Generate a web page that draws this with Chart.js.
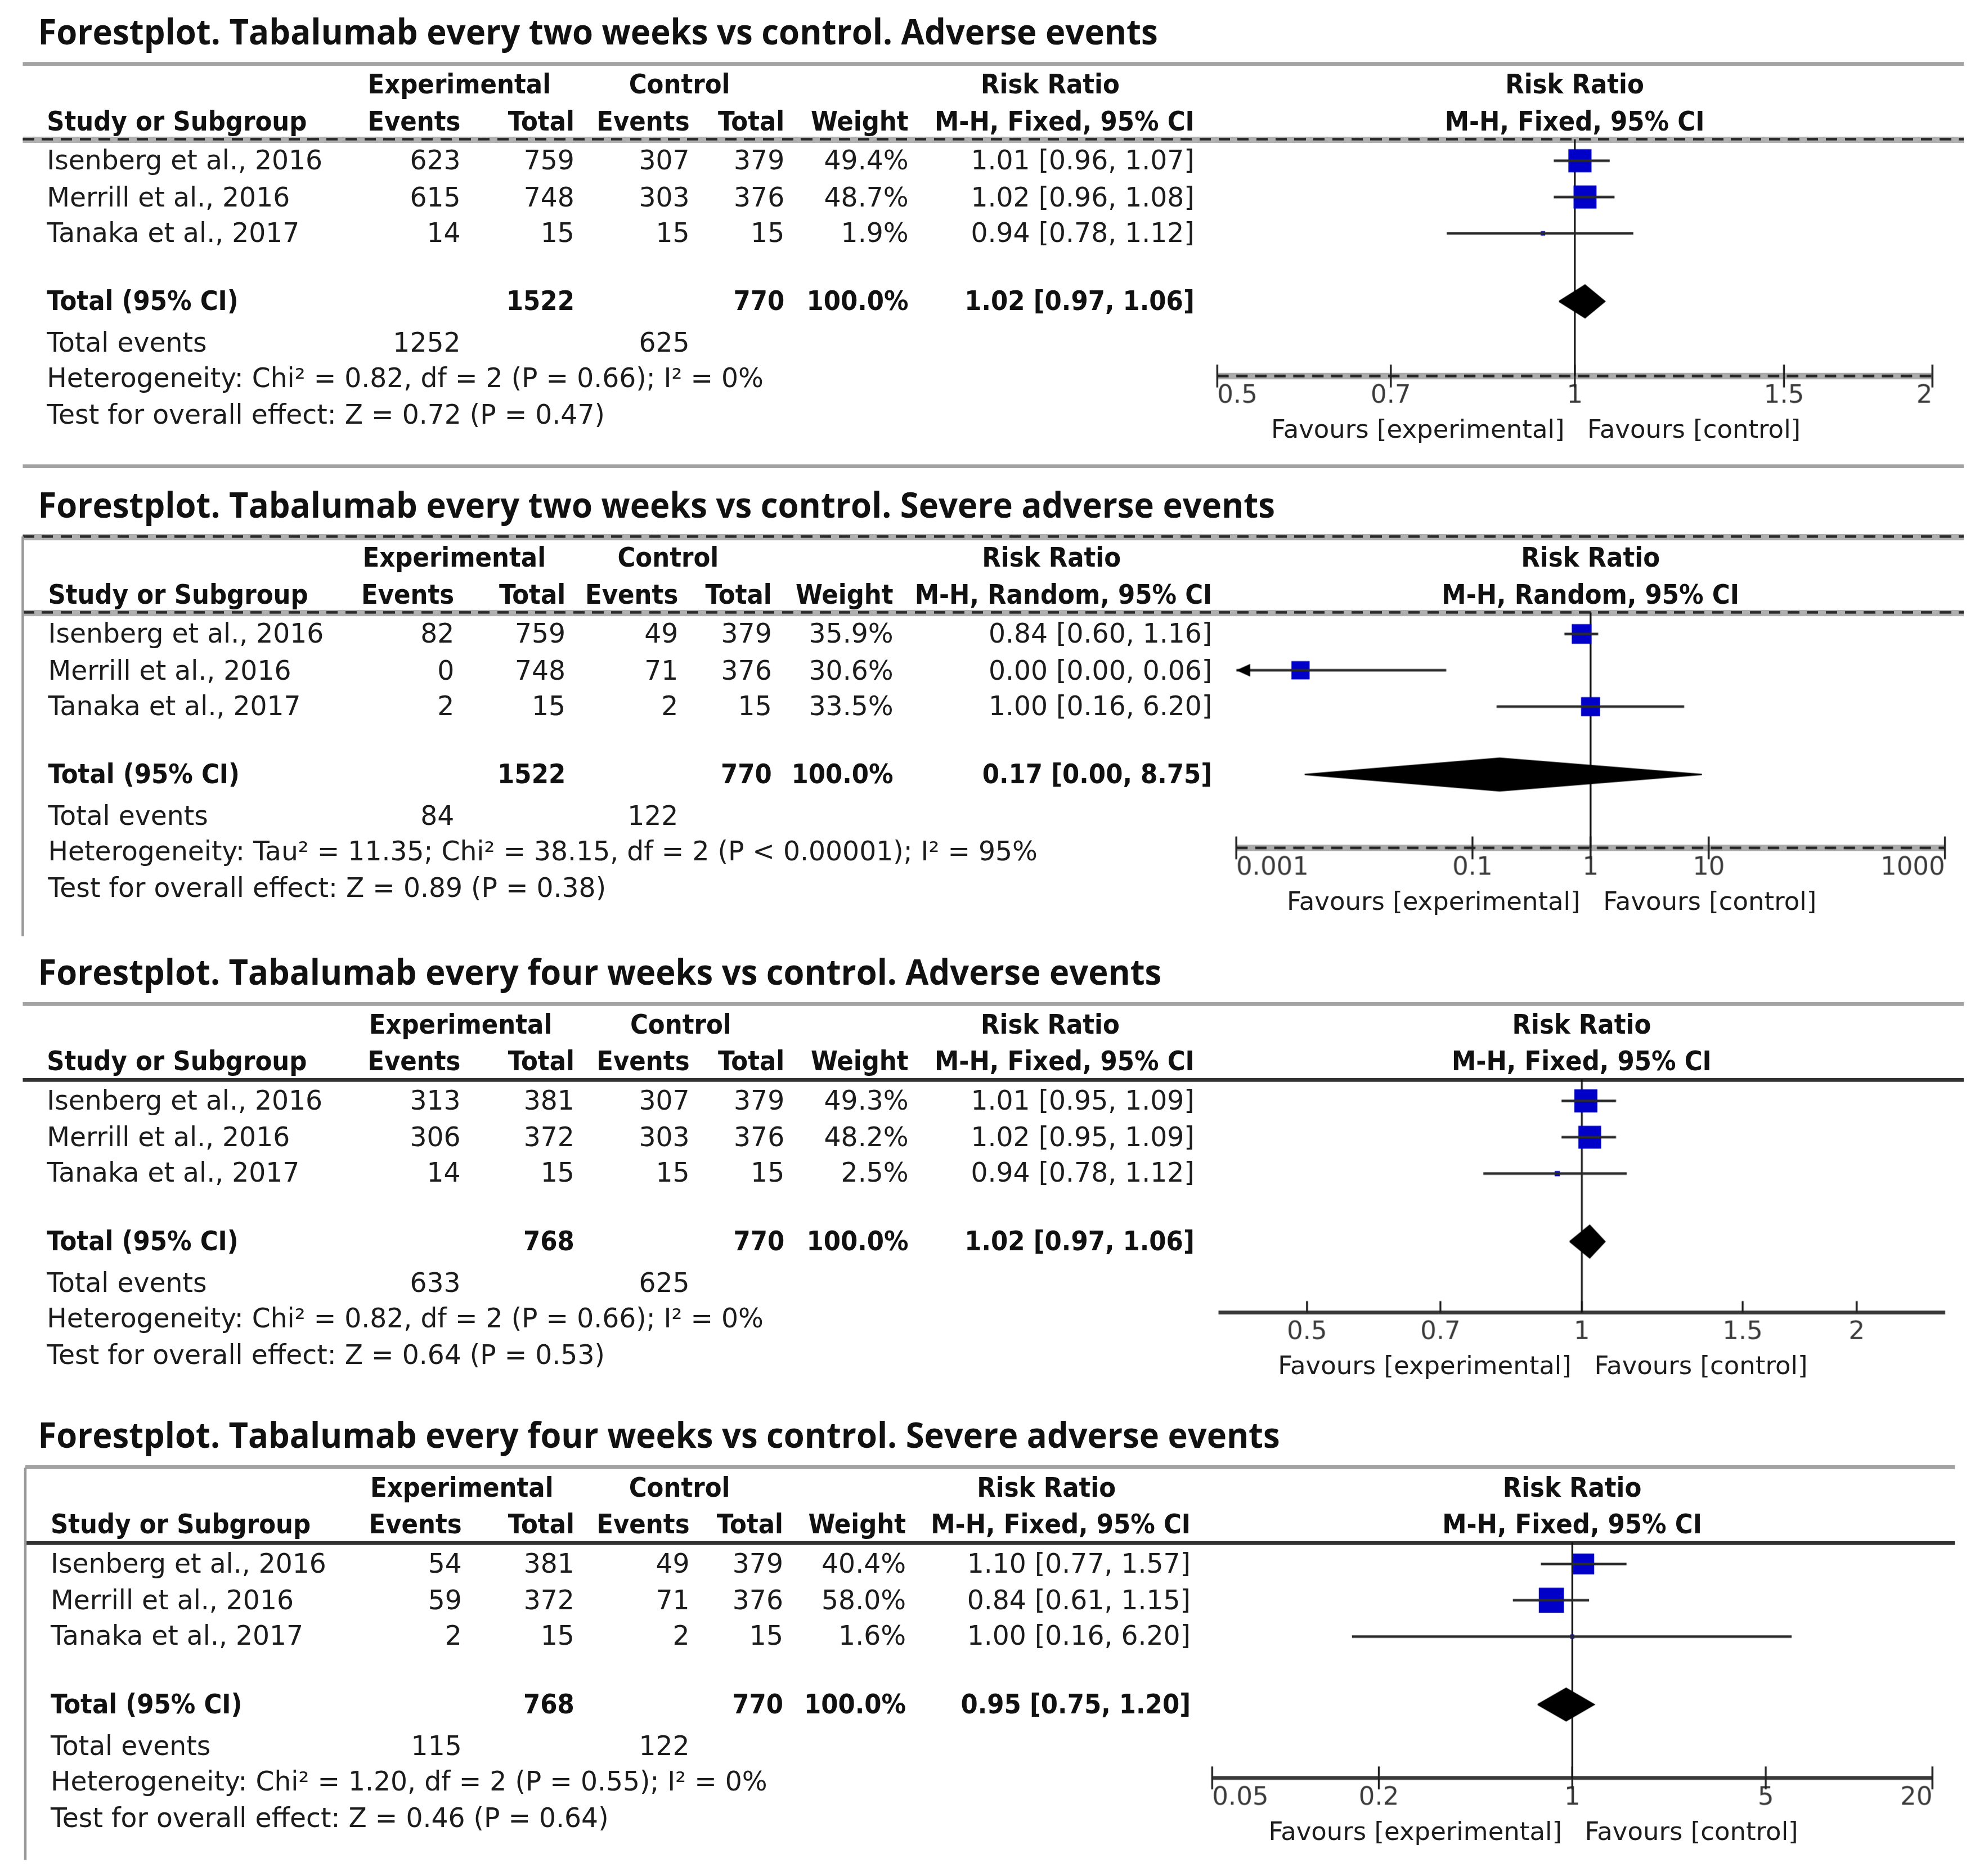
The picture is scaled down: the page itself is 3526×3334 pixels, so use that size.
<!DOCTYPE html>
<html>
<head>
<meta charset="utf-8">
<title>Forest plots - Tabalumab vs control</title>
<script src="https://cdn.jsdelivr.net/npm/chart.js@4.4.1/dist/chart.umd.min.js"></script>
<style>
  html, body { margin: 0; padding: 0; background: #fff; }
  #page { position: absolute; left: 0; top: 0; width: 1568px; height: 1483px; transform-origin: 0 0; }
  .t { position: absolute; white-space: nowrap; font-family: "DejaVu Sans", sans-serif; font-size: 21px; line-height: 24px; color: #1c1c1c; }
  .b { font-family: "DejaVu Sans Condensed", "DejaVu Sans", sans-serif; font-stretch: condensed; font-weight: bold; font-size: 21.5px; color: #111; }
  .title { font-family: "Open Sans", sans-serif; font-weight: 700; font-size: 28px; line-height: 32px; color: #111; transform-origin: 0 50%; }
  .fav { font-size: 20px; }
  .ln { position: absolute; }
</style>
</head>
<body>
<div id="page"></div>
<script>
const studies = ['Isenberg et al., 2016', 'Merrill et al., 2016', 'Tanaka et al., 2017'];

// every two weeks - adverse events (M-H, Fixed)
const twoWkAeExpEvents = [623, 615, 14];
const twoWkAeExpTotal = [759, 748, 15];
const twoWkAeCtlEvents = [307, 303, 15];
const twoWkAeCtlTotal = [379, 376, 15];
const twoWkAeWeight = [49.4, 48.7, 1.9];
const twoWkAeRR = [1.01, 1.02, 0.94];
const twoWkAeLow = [0.96, 0.96, 0.78];
const twoWkAeHigh = [1.07, 1.08, 1.12];
const twoWkAePooled = [1.02, 0.97, 1.06];
const twoWkAeTicks = [0.5, 0.7, 1, 1.5, 2];
const twoWkAeRange = [0.5, 2];

// every two weeks - severe adverse events (M-H, Random)
const twoWkSaeExpEvents = [82, 0, 2];
const twoWkSaeExpTotal = [759, 748, 15];
const twoWkSaeCtlEvents = [49, 71, 2];
const twoWkSaeCtlTotal = [379, 376, 15];
const twoWkSaeWeight = [35.9, 30.6, 33.5];
const twoWkSaeRR = [0.84, 0.0035, 1.00];
const twoWkSaeLow = [0.60, 0, 0.16];
const twoWkSaeHigh = [1.16, 0.06, 6.20];
const twoWkSaePooled = [0.17, 0.0038, 8.75];
const twoWkSaeTicks = [0.001, 0.1, 1, 10, 1000];
const twoWkSaeRange = [0.001, 1000];

// every four weeks - adverse events (M-H, Fixed)
const fourWkAeExpEvents = [313, 306, 14];
const fourWkAeExpTotal = [381, 372, 15];
const fourWkAeCtlEvents = [307, 303, 15];
const fourWkAeCtlTotal = [379, 376, 15];
const fourWkAeWeight = [49.3, 48.2, 2.5];
const fourWkAeRR = [1.01, 1.02, 0.94];
const fourWkAeLow = [0.95, 0.95, 0.78];
const fourWkAeHigh = [1.09, 1.09, 1.12];
const fourWkAePooled = [1.02, 0.97, 1.06];
const fourWkAeTicks = [0.5, 0.7, 1, 1.5, 2];
const fourWkAeRange = [0.4, 2.5];

// every four weeks - severe adverse events (M-H, Fixed)
const fourWkSaeExpEvents = [54, 59, 2];
const fourWkSaeExpTotal = [381, 372, 15];
const fourWkSaeCtlEvents = [49, 71, 2];
const fourWkSaeCtlTotal = [379, 376, 15];
const fourWkSaeWeight = [40.4, 58.0, 1.6];
const fourWkSaeRR = [1.10, 0.84, 1.00];
const fourWkSaeLow = [0.77, 0.61, 0.16];
const fourWkSaeHigh = [1.57, 1.15, 6.20];
const fourWkSaePooled = [0.95, 0.75, 1.20];
const fourWkSaeTicks = [0.05, 0.2, 1, 5, 20];
const fourWkSaeRange = [0.05, 20];

const titles = [
    'Forestplot. Tabalumab every two weeks vs control. Adverse events',
    'Forestplot. Tabalumab every two weeks vs control. Severe adverse events',
    'Forestplot. Tabalumab every four weeks vs control. Adverse events',
    'Forestplot. Tabalumab every four weeks vs control. Severe adverse events'
];
const methods = ['M-H, Fixed, 95% CI', 'M-H, Random, 95% CI', 'M-H, Fixed, 95% CI', 'M-H, Fixed, 95% CI'];
const heterogeneity = [
    'Heterogeneity: Chi² = 0.82, df = 2 (P = 0.66); I² = 0%',
    'Heterogeneity: Tau² = 11.35; Chi² = 38.15, df = 2 (P < 0.00001); I² = 95%',
    'Heterogeneity: Chi² = 0.82, df = 2 (P = 0.66); I² = 0%',
    'Heterogeneity: Chi² = 1.20, df = 2 (P = 0.55); I² = 0%'
];
const overallEffect = [
    'Test for overall effect: Z = 0.72 (P = 0.47)',
    'Test for overall effect: Z = 0.89 (P = 0.38)',
    'Test for overall effect: Z = 0.64 (P = 0.53)',
    'Test for overall effect: Z = 0.46 (P = 0.64)'
];

// layout (in 1568px-wide page units, scaled up to the window below)
const S = 3526 / 1568;
const PITCH = 28.7, FIRST = 17, TOTAL_SLOT = 3.87;
const SQ = 2.6;     // square side per sqrt(weight %)
const DH = 0.45;    // half height of pooled diamond, in rows
const PAD = 6;      // side room on the canvas for end ticks

const page = document.getElementById('page');
page.style.transform = `scale(${S})`;

function txt(x, y, html, cls, align) {
    const d = document.createElement('div');
    d.className = 't ' + (cls || '');
    d.innerHTML = html;
    d.style.left = x + 'px';
    d.style.top = (y - (cls === 'title' ? 16 : 12)) + 'px';
    if (align === 'r') d.style.transform = 'translateX(-100%)';
    if (align === 'c') d.style.transform = 'translateX(-50%)';
    page.appendChild(d);
    return d;
}

function box(x, y, w, h, bg) {
    const d = document.createElement('div');
    d.className = 'ln';
    d.style.cssText += `left:${x}px;top:${y}px;width:${w}px;height:${h}px;background:${bg};`;
    page.appendChild(d);
}

function hline(x1, x2, y, kind) {
    if (kind === 'gray') {
        box(x1, y - 1.5, x2 - x1, 3, '#a2a2a2');
    } else if (kind === 'dash') {
        box(x1, y - 2.5, x2 - x1, 5, '#b0b0b0');
        box(x1, y - 1, x2 - x1, 2, 'repeating-linear-gradient(90deg,#2a2a2a 0 9px,transparent 9px 15px)');
    } else {
        box(x1, y - 1.5, x2 - x1, 3, '#333');
    }
}

const fmtCI = (m, lo, hi) => `${m.toFixed(2)} [${lo.toFixed(2)}, ${hi.toFixed(2)}]`;
const sum = a => a.reduce((s, v) => s + v, 0);

// axis line, ticks, the line of no effect and the off-scale arrows
const forestAxis = {
    id: 'forestAxis',
    beforeDatasetsDraw(chart, args, o) {
        const {ctx, chartArea: a, scales: {x}} = chart;
        const yb = a.bottom;
        ctx.save();
        if (o.dashed) {
            ctx.strokeStyle = '#ababab'; ctx.lineWidth = 5;
            ctx.beginPath(); ctx.moveTo(a.left, yb); ctx.lineTo(a.right, yb); ctx.stroke();
            ctx.setLineDash([9, 6]);
            ctx.strokeStyle = '#222'; ctx.lineWidth = 2;
            ctx.beginPath(); ctx.moveTo(a.left, yb); ctx.lineTo(a.right, yb); ctx.stroke();
            ctx.setLineDash([]);
        } else {
            ctx.strokeStyle = '#3a3a3a'; ctx.lineWidth = 3;
            ctx.beginPath(); ctx.moveTo(a.left, yb); ctx.lineTo(a.right, yb); ctx.stroke();
        }
        ctx.strokeStyle = '#222'; ctx.lineWidth = 1.5;
        x.ticks.forEach(t => {
            const px = x.getPixelForValue(t.value);
            ctx.beginPath();
            ctx.moveTo(px, yb - 9);
            ctx.lineTo(px, yb + (o.tickBoth ? 9 : 0));
            ctx.stroke();
        });
        const x1 = x.getPixelForValue(1);
        ctx.strokeStyle = '#111'; ctx.lineWidth = 1.4;
        ctx.beginPath(); ctx.moveTo(x1, a.top); ctx.lineTo(x1, yb); ctx.stroke();
        ctx.restore();
    },
    afterDatasetsDraw(chart, args, o) {
        const {ctx, chartArea: a, scales: {x, y}} = chart;
        ctx.save();
        ctx.fillStyle = '#000';
        o.low.forEach((lo, i) => {
            if (lo >= x.min) return;
            const py = y.getPixelForValue(i);
            ctx.beginPath();
            ctx.moveTo(a.left, py);
            ctx.lineTo(a.left + 11, py - 5);
            ctx.lineTo(a.left + 11, py + 5);
            ctx.closePath();
            ctx.fill();
        });
        ctx.restore();
    }
};

function panel(n, d, p) {
    const L = p.L;
    const rowY = slot => L + FIRST + slot * PITCH;

    // rules and borders
    hline(p.lineStart, p.lineEnd, L - 60, p.titleLine);
    hline(p.lineStart, p.lineEnd, L, p.headLine);
    if (p.border) box(p.lineStart - 0.75, p.border[0], 1.5, p.border[1] - p.border[0], '#9a9a9a');

    // title, fitted to its width in the reference
    const t = txt(30, L - 86, titles[n], 'title');
    t.dataset.w = p.titleW;

    // plot
    const w = p.axis[1] - p.axis[0] + 2 * PAD, h = p.axisOff + 60;
    const cv = document.createElement('canvas');
    cv.width = w; cv.height = h;
    cv.style.cssText = `position:absolute;left:${p.axis[0] - PAD}px;top:${L}px;width:${w}px;height:${h}px;`;
    page.appendChild(cv);

    const datasets = [];
    d.rr.forEach((v, i) => {
        datasets.push({
            data: [{x: Math.max(d.low[i], d.range[0]), y: i}, {x: Math.min(d.high[i], d.range[1]), y: i}],
            borderColor: '#2a2a2a', borderWidth: 2, pointRadius: 0
        });
    });
    datasets.push({
        data: d.rr.map((v, i) => ({x: v, y: i})),
        showLine: false, pointStyle: 'rect',
        pointRadius: d.weight.map(wt => SQ * Math.sqrt(wt) / Math.SQRT2),
        backgroundColor: '#0000c8', borderWidth: 0
    });
    const [pm, plo, phi] = d.pooled;
    datasets.push({
        data: [{x: plo, y: TOTAL_SLOT}, {x: pm, y: TOTAL_SLOT - DH}, {x: phi, y: TOTAL_SLOT},
               {x: pm, y: TOTAL_SLOT + DH}, {x: plo, y: TOTAL_SLOT}],
        fill: 'shape', backgroundColor: '#000', borderColor: '#000', borderWidth: 1, pointRadius: 0
    });

    const chart = new Chart(cv, {
        type: 'line',
        data: {datasets},
        options: {
            responsive: false,
            devicePixelRatio: S,
            animation: false,
            events: [],
            layout: {padding: {left: PAD, right: PAD, top: 0, bottom: 0}, autoPadding: false},
            elements: {line: {tension: 0}},
            scales: {
                x: {
                    type: 'logarithmic',
                    min: d.range[0], max: d.range[1],
                    afterBuildTicks: s => { s.ticks = d.ticks.map(v => ({value: v})); },
                    afterFit: s => { s.height = 60; },
                    grid: {display: false, drawTicks: false},
                    border: {display: false},
                    ticks: {
                        autoSkip: false, maxRotation: 0, align: p.tickAlign, padding: 4,
                        color: '#3a3a3a', font: {family: 'DejaVu Sans', size: 20},
                        callback: v => String(v)
                    }
                },
                y: {
                    type: 'linear', display: false, reverse: true,
                    min: -FIRST / PITCH, max: (p.axisOff - FIRST) / PITCH
                }
            },
            plugins: {
                legend: {display: false},
                tooltip: {enabled: false},
                forestAxis: {dashed: p.axisDashed, tickBoth: p.tickBoth, low: d.low}
            }
        },
        plugins: [forestAxis]
    });

    const x1 = p.axis[0] - PAD + chart.scales.x.getPixelForValue(1);

    // header
    txt(p.hdr[0], L - 43, 'Experimental', 'b', 'c');
    txt(p.hdr[1], L - 43, 'Control', 'b', 'c');
    txt(p.hdr[2], L - 43, 'Risk Ratio', 'b', 'c');
    txt(x1, L - 43, 'Risk Ratio', 'b', 'c');
    txt(p.x0, L - 14, 'Study or Subgroup', 'b');
    ['Events', 'Total', 'Events', 'Total', 'Weight', methods[n]].forEach((s, i) => txt(p.cols[i], L - 14, s, 'b', 'r'));
    txt(x1, L - 14, methods[n], 'b', 'c');

    // study rows
    studies.forEach((s, i) => {
        const y = rowY(i);
        txt(p.x0, y, s);
        [d.expEv[i], d.expN[i], d.ctlEv[i], d.ctlN[i], d.weight[i].toFixed(1) + '%', fmtCI(d.rr[i], d.low[i], d.high[i])]
            .forEach((v, j) => txt(p.cols[j], y, v, '', 'r'));
    });

    // totals
    const ty = rowY(TOTAL_SLOT);
    txt(p.x0, ty, 'Total (95% CI)', 'b');
    txt(p.cols[1], ty, sum(d.expN), 'b', 'r');
    txt(p.cols[3], ty, sum(d.ctlN), 'b', 'r');
    txt(p.cols[4], ty, sum(d.weight).toFixed(1) + '%', 'b', 'r');
    txt(p.cols[5], ty, fmtCI(pm, plo, phi), 'b', 'r');
    txt(p.x0, rowY(5), 'Total events');
    txt(p.cols[0], rowY(5), sum(d.expEv), '', 'r');
    txt(p.cols[2], rowY(5), sum(d.ctlEv), '', 'r');
    txt(p.x0, rowY(6), heterogeneity[n]);
    txt(p.x0, rowY(7), overallEffect[n]);

    // favours labels either side of the line of no effect
    const fy = L + p.axisOff + 42;
    txt(x1 - 8, fy, 'Favours [experimental]', 'fav', 'r');
    txt(x1 + 10, fy, 'Favours [control]', 'fav');
}

panel(0, {
    expEv: twoWkAeExpEvents, expN: twoWkAeExpTotal, ctlEv: twoWkAeCtlEvents, ctlN: twoWkAeCtlTotal,
    weight: twoWkAeWeight, rr: twoWkAeRR, low: twoWkAeLow, high: twoWkAeHigh,
    pooled: twoWkAePooled, ticks: twoWkAeTicks, range: twoWkAeRange
}, {
    L: 110, axisOff: 187, x0: 37, cols: [364, 454, 545, 620, 718, 944], hdr: [363, 537, 830],
    axis: [962, 1527], titleW: 885, titleLine: 'gray', headLine: 'dash',
    axisDashed: true, tickBoth: true, tickAlign: 'inner', lineStart: 18, lineEnd: 1552
});

panel(1, {
    expEv: twoWkSaeExpEvents, expN: twoWkSaeExpTotal, ctlEv: twoWkSaeCtlEvents, ctlN: twoWkSaeCtlTotal,
    weight: twoWkSaeWeight, rr: twoWkSaeRR, low: twoWkSaeLow, high: twoWkSaeHigh,
    pooled: twoWkSaePooled, ticks: twoWkSaeTicks, range: twoWkSaeRange
}, {
    L: 484, axisOff: 186, x0: 38, cols: [359, 447, 536, 610, 706, 958], hdr: [359, 528, 831],
    axis: [977, 1537], titleW: 978, titleLine: 'dash', headLine: 'dash',
    axisDashed: true, tickBoth: true, tickAlign: 'inner', lineStart: 18, lineEnd: 1552,
    border: [424, 740]
});

panel(2, {
    expEv: fourWkAeExpEvents, expN: fourWkAeExpTotal, ctlEv: fourWkAeCtlEvents, ctlN: fourWkAeCtlTotal,
    weight: fourWkAeWeight, rr: fourWkAeRR, low: fourWkAeLow, high: fourWkAeHigh,
    pooled: fourWkAePooled, ticks: fourWkAeTicks, range: fourWkAeRange
}, {
    L: 853, axisOff: 184, x0: 37, cols: [364, 454, 545, 620, 718, 944], hdr: [364, 538, 830],
    axis: [963, 1537], titleW: 888, titleLine: 'gray', headLine: 'dark',
    axisDashed: false, tickBoth: false, tickAlign: 'center', lineStart: 18, lineEnd: 1552
});

panel(3, {
    expEv: fourWkSaeExpEvents, expN: fourWkSaeExpTotal, ctlEv: fourWkSaeCtlEvents, ctlN: fourWkSaeCtlTotal,
    weight: fourWkSaeWeight, rr: fourWkSaeRR, low: fourWkSaeLow, high: fourWkSaeHigh,
    pooled: fourWkSaePooled, ticks: fourWkSaeTicks, range: fourWkSaeRange
}, {
    L: 1219, axisOff: 186, x0: 40, cols: [365, 454, 545, 619, 716, 941], hdr: [365, 537, 827],
    axis: [958, 1527], titleW: 982, titleLine: 'gray', headLine: 'dark',
    axisDashed: false, tickBoth: true, tickAlign: 'inner', lineStart: 20, lineEnd: 1545,
    border: [1160, 1470]
});

// separator between the first two panels
hline(18, 1552, 368, 'gray');

function fitTitles() {
    document.querySelectorAll('.title').forEach(el => {
        el.style.transform = '';
        el.style.transform = `scaleX(${el.dataset.w / el.offsetWidth})`;
    });
}
fitTitles();
document.fonts.ready.then(fitTitles);
</script>
</body>
</html>
